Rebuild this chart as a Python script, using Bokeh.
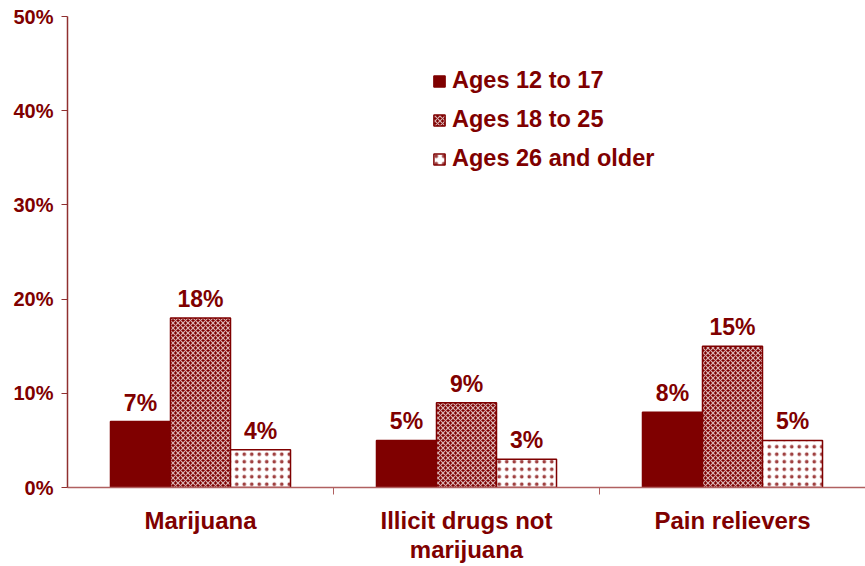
from bokeh.plotting import figure
from bokeh.models import ColumnDataSource, FixedTicker, Legend, LegendItem, Range1d
from bokeh.core.properties import value
from bokeh.embed import file_html
from bokeh.resources import INLINE

categories = ["Marijuana", "Illicit drugs not\nmarijuana", "Pain relievers"]
series = ["Ages 12 to 17", "Ages 18 to 25", "Ages 26 and older"]
ages_12_17 = [7, 5, 8]
ages_18_25 = [18, 9, 15]
ages_26_up = [4, 3, 5]
y_ticks = [0, 10, 20, 30, 40, 50]

MAROON = "#7f0000"
FONT = "Liberation Sans"

p = figure(width=865, height=566, output_backend="svg", toolbar_location=None,
           x_range=Range1d(0, 3), y_range=Range1d(0, 50),
           min_border_left=67, min_border_right=0, min_border_top=16, min_border_bottom=74)
p.outline_line_color = None
p.grid.visible = False
p.background_fill_color = "white"

bw = 0.2256
offsets = [-bw, 0.0, bw]
styles = [
    dict(fill_color=MAROON),
    dict(fill_color=MAROON, hatch_pattern="diagonal_cross", hatch_color="white",
         hatch_scale=5, hatch_weight=1.2, hatch_alpha=0.7),
    dict(fill_color="white", hatch_pattern="dot", hatch_color=MAROON,
         hatch_scale=7.5, hatch_weight=1.3, hatch_alpha=0.75),
]
renderers = []
for vals, off, st in zip([ages_12_17, ages_18_25, ages_26_up], offsets, styles):
    xs = [i + 0.5 + off for i in range(len(categories))]
    src = ColumnDataSource(dict(x=xs, top=vals, lab=[f"{v}%" for v in vals]))
    r = p.vbar(x="x", top="top", width=bw, bottom=0, source=src,
               line_color=MAROON, line_width=1.5, **st)
    renderers.append(r)
    p.text(x="x", y="top", text="lab", source=src, text_align="center",
           text_baseline="bottom", y_offset=-6, text_color=MAROON,
           text_font=value(FONT), text_font_size="23px", text_font_style="bold")

# axes
xa = p.xaxis[0]
xa.ticker = FixedTicker(ticks=[0.5, 1.5, 2.5], minor_ticks=[1, 2, 3])
xa.major_label_overrides = {0.5: categories[0], 1.5: categories[1], 2.5: categories[2]}
xa.major_tick_line_color = None
xa.minor_tick_out = 7
xa.minor_tick_in = 0
xa.minor_tick_line_color = "#b06060"
xa.axis_line_color = "#b06060"
xa.axis_line_width = 1.5
xa.major_label_standoff = 12
xa.major_label_text_font = FONT
xa.major_label_text_font_size = "24px"
xa.major_label_text_line_height = 1.1
xa.major_label_text_font_style = "bold"
xa.major_label_text_color = MAROON

ya = p.yaxis[0]
ya.ticker = FixedTicker(ticks=y_ticks)
ya.major_label_overrides = {v: f"{v}%" for v in y_ticks}
ya.minor_tick_line_color = None
ya.major_tick_out = 6
ya.major_tick_in = 0
ya.major_tick_line_color = "#903030"
ya.axis_line_color = "#903030"
ya.axis_line_width = 1.5
ya.major_label_standoff = 8
ya.major_label_text_font = FONT
ya.major_label_text_font_size = "20px"
ya.major_label_text_font_style = "bold"
ya.major_label_text_color = MAROON

legend = Legend(items=[LegendItem(label=s, renderers=[r]) for s, r in zip(series, renderers)],
                location=(365, 315), padding=0, margin=0, spacing=12,
                glyph_width=14, glyph_height=14, label_height=24, label_standoff=6,
                border_line_alpha=0, background_fill_alpha=0,
                label_text_font=FONT, label_text_font_size="23.5px",
                label_text_font_style="bold", label_text_color=MAROON)
p.add_layout(legend, "center")

open("out.html", "w").write(file_html(p, INLINE))
